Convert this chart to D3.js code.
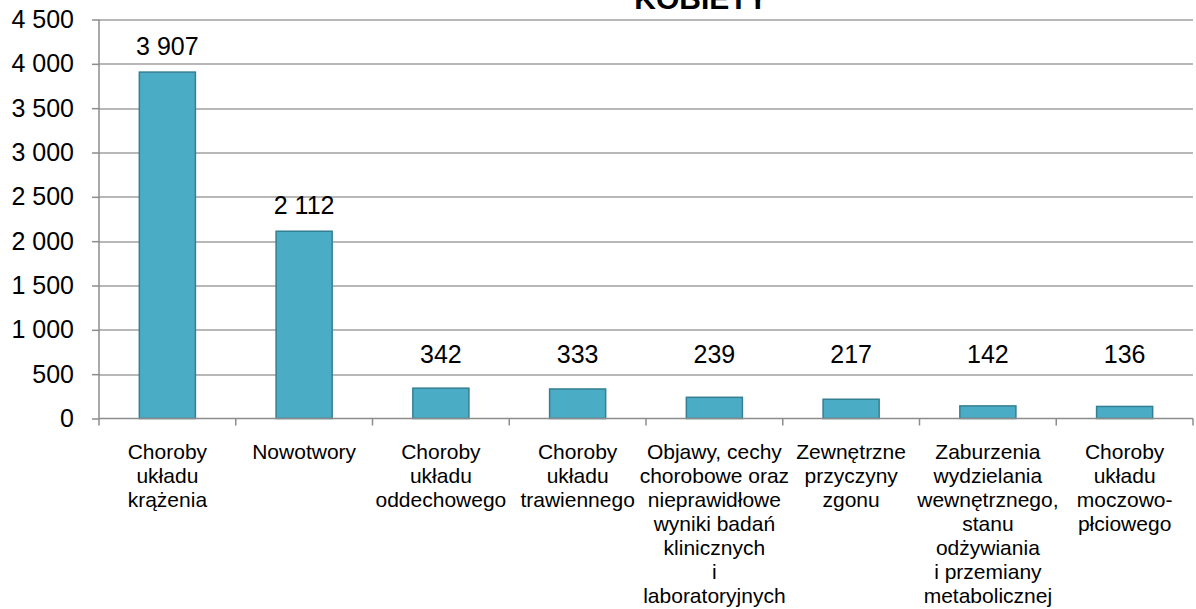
<!DOCTYPE html>
<html>
<head>
<meta charset="utf-8">
<script src="https://cdn.jsdelivr.net/npm/d3@7"></script>
<style>
  body { margin: 0; background: #fff; }
  text { font-family: "Liberation Sans", Arial, sans-serif; fill: #000; }
</style>
</head>
<body>
<div class="chart"></div>
<script>
// data
var categories = [
  ["Choroby", "układu", "krążenia"],
  ["Nowotwory"],
  ["Choroby", "układu", "oddechowego"],
  ["Choroby", "układu", "trawiennego"],
  ["Objawy, cechy", "chorobowe oraz", "nieprawidłowe", "wyniki badań", "klinicznych", "i", "laboratoryjnych"],
  ["Zewnętrzne", "przyczyny", "zgonu"],
  ["Zaburzenia", "wydzielania", "wewnętrznego,", "stanu", "odżywiania", "i przemiany", "metabolicznej"],
  ["Choroby", "układu", "moczowo-", "płciowego"]
];
var values = [3907, 2112, 342, 333, 239, 217, 142, 136];
var yTicks = [0, 500, 1000, 1500, 2000, 2500, 3000, 3500, 4000, 4500];
var title = "KOBIETY";

var svgWidth = 1196;
var svgHeight = 609;
var margin = { top: 19.5, right: 3, bottom: 190.5, left: 99 };
var width = svgWidth - margin.left - margin.right;
var height = svgHeight - margin.top - margin.bottom;

var fmt = function(v) {
  return d3.format(",")(v).replace(/,/g, " ");
};

var svg = d3.select(".chart")
  .append("svg")
  .attr("width", svgWidth)
  .attr("height", svgHeight);

var chart = svg.append("g")
  .attr("transform", "translate(" + margin.left + "," + margin.top + ")");

var x = d3.scaleBand()
  .domain(d3.range(categories.length))
  .range([0, width])
  .paddingInner(0.59)
  .paddingOuter(0.295);

var y = d3.scaleLinear()
  .domain([0, 4500])
  .range([height, 0]);

// gridlines
chart.append("g")
  .selectAll("line")
  .data(yTicks.slice(1))
  .enter().append("line")
  .attr("x1", 0)
  .attr("x2", width)
  .attr("y1", function(d) { return Math.round(y(d)) + 0.5; })
  .attr("y2", function(d) { return Math.round(y(d)) + 0.5; })
  .attr("stroke", "#a0a0a0")
  .attr("stroke-width", 1.3);

// bars
chart.selectAll("rect.bar")
  .data(values)
  .enter().append("rect")
  .attr("class", "bar")
  .attr("x", function(d, i) { return x(i); })
  .attr("y", function(d) { return y(d); })
  .attr("width", x.bandwidth())
  .attr("height", function(d) { return height - y(d); })
  .attr("fill", "#4bacc6")
  .attr("stroke", "#357f93")
  .attr("stroke-width", 1.5);

// value labels
chart.selectAll("text.val")
  .data(values)
  .enter().append("text")
  .attr("class", "val")
  .attr("x", function(d, i) { return x(i) + x.bandwidth() / 2; })
  .attr("y", function(d) { return Math.min(y(d) - 17, 343); })
  .attr("text-anchor", "middle")
  .style("font-size", "25px")
  .text(function(d) { return fmt(d); });

// y axis
var leftAxis = d3.axisLeft(y)
  .tickValues(yTicks)
  .tickSize(7)
  .tickPadding(18)
  .tickFormat(fmt);

var yAxisG = chart.append("g").call(leftAxis);
yAxisG.select(".domain").attr("stroke", "#8c8c8c").attr("stroke-width", 1.5)
  .attr("d", "M0," + height + "V0");
yAxisG.selectAll(".tick line").attr("stroke", "#8c8c8c").attr("stroke-width", 1.5);
yAxisG.selectAll(".tick text")
  .style("font-size", "25px")
  .style("font-family", "Liberation Sans, Arial, sans-serif")
  .attr("fill", "#000");

// x axis with ticks at band edges
var step = x.step();
var xAxisG = chart.append("g")
  .attr("transform", "translate(0," + height + ")");
xAxisG.append("line")
  .attr("x1", 0).attr("x2", width)
  .attr("stroke", "#8c8c8c").attr("stroke-width", 1.5);
xAxisG.selectAll("line.tk")
  .data(d3.range(categories.length + 1))
  .enter().append("line")
  .attr("class", "tk")
  .attr("x1", function(d) { return d * step; })
  .attr("x2", function(d) { return d * step; })
  .attr("y1", 0).attr("y2", 7)
  .attr("stroke", "#8c8c8c").attr("stroke-width", 1.5);

// category labels
var catG = chart.selectAll("text.cat")
  .data(categories)
  .enter().append("text")
  .attr("class", "cat")
  .attr("text-anchor", "middle")
  .style("font-size", "21px")
  .attr("transform", function(d, i) {
    return "translate(" + (x(i) + x.bandwidth() / 2) + "," + (height + 40) + ")";
  });

catG.selectAll("tspan")
  .data(function(d) { return d; })
  .enter().append("tspan")
  .attr("x", 0)
  .attr("y", function(d, i) { return i * 24; })
  .text(function(d) { return d; });

// title (cut off at the top in the original)
svg.append("text")
  .attr("x", 701)
  .attr("y", 9)
  .attr("text-anchor", "middle")
  .style("font-size", "30px")
  .style("font-weight", "bold")
  .text(title);
</script>
</body>
</html>
